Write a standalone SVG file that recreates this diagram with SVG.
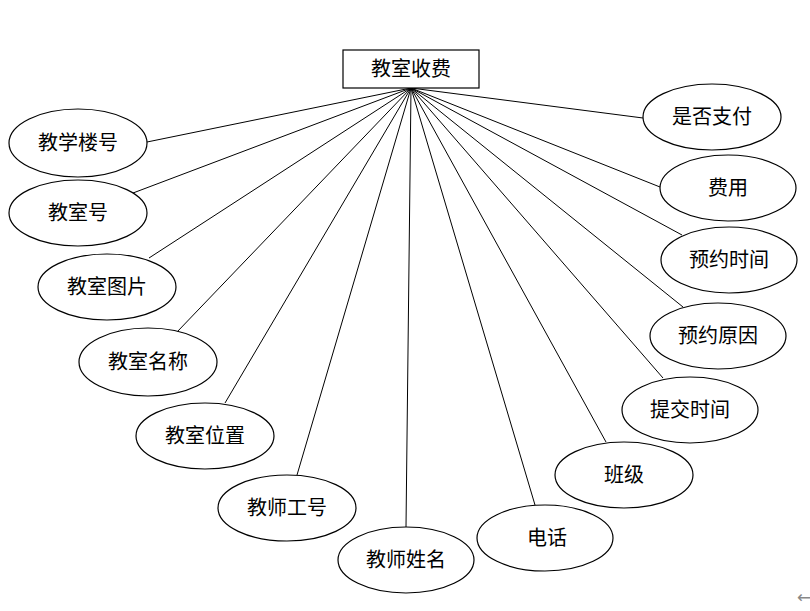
<svg xmlns="http://www.w3.org/2000/svg" width="810" height="611" viewBox="0 0 810 611">
<style>
.n ellipse, .n rect { fill: #fff; stroke: #000; stroke-width: 1.2; }
.n text { font-family: "Liberation Serif", "Noto Sans CJK SC", serif; font-size: 20px; text-anchor: middle; fill: #000; }
#edges line { stroke: #000; stroke-width: 1; }
</style>
<rect width="810" height="611" fill="#fff"/>
<g id="edges">
<line x1="411" y1="88" x2="147" y2="142"/>
<line x1="411" y1="88" x2="133" y2="193"/>
<line x1="411" y1="88" x2="149" y2="258"/>
<line x1="411" y1="88" x2="177" y2="332"/>
<line x1="411" y1="88" x2="225" y2="403"/>
<line x1="411" y1="88" x2="297" y2="475"/>
<line x1="411" y1="88" x2="406" y2="527"/>
<line x1="411" y1="88" x2="535" y2="505"/>
<line x1="411" y1="88" x2="606" y2="442"/>
<line x1="411" y1="88" x2="663" y2="378"/>
<line x1="411" y1="88" x2="683" y2="307"/>
<line x1="411" y1="88" x2="682" y2="235"/>
<line x1="411" y1="88" x2="660" y2="187"/>
<line x1="411" y1="88" x2="643" y2="118"/>
</g>
<g id="center" class="n"><rect x="343" y="50" width="136" height="38"/><text x="411" y="76">教室收费</text></g>
<g id="a1" class="n"><ellipse cx="78" cy="143" rx="69" ry="34"/><text x="78" y="150">教学楼号</text></g>
<g id="a2" class="n"><ellipse cx="78" cy="213" rx="69" ry="33"/><text x="78" y="220">教室号</text></g>
<g id="a3" class="n"><ellipse cx="107" cy="287" rx="69" ry="33"/><text x="107" y="294">教室图片</text></g>
<g id="a4" class="n"><ellipse cx="148" cy="362" rx="69" ry="34"/><text x="148" y="369">教室名称</text></g>
<g id="a5" class="n"><ellipse cx="205" cy="436" rx="69" ry="33"/><text x="205" y="443">教室位置</text></g>
<g id="a6" class="n"><ellipse cx="287" cy="508" rx="69" ry="33"/><text x="287" y="515">教师工号</text></g>
<g id="a7" class="n"><ellipse cx="406" cy="560" rx="68" ry="33"/><text x="406" y="567">教师姓名</text></g>
<g id="a8" class="n"><ellipse cx="545" cy="538" rx="68" ry="33"/><text x="547" y="545">电话</text></g>
<g id="a9" class="n"><ellipse cx="624" cy="475" rx="69" ry="33"/><text x="624" y="482">班级</text></g>
<g id="a10" class="n"><ellipse cx="690" cy="410" rx="68" ry="33"/><text x="690" y="417">提交时间</text></g>
<g id="a11" class="n"><ellipse cx="718" cy="336" rx="68" ry="33"/><text x="718" y="343">预约原因</text></g>
<g id="a12" class="n"><ellipse cx="729" cy="260" rx="68" ry="33"/><text x="729" y="267">预约时间</text></g>
<g id="a13" class="n"><ellipse cx="728" cy="188" rx="68" ry="33"/><text x="728" y="195">费用</text></g>
<g id="a14" class="n"><ellipse cx="712" cy="117" rx="69" ry="33"/><text x="712" y="124">是否支付</text></g>
<text x="804" y="603" font-family="DejaVu Sans, sans-serif" font-size="17" fill="#888" text-anchor="middle">←</text>
</svg>
